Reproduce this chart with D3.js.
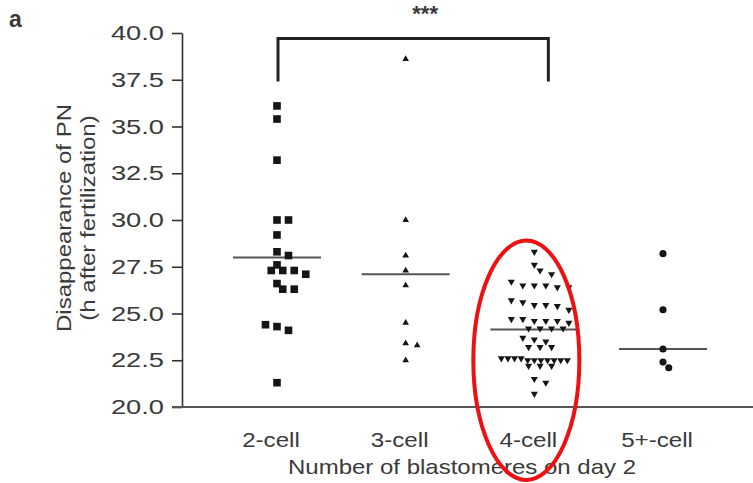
<!DOCTYPE html>
<html>
<head>
<meta charset="utf-8">
<script src="https://cdn.jsdelivr.net/npm/d3@7"></script>
<style>
  html, body { margin: 0; padding: 0; background: #fff; }
  svg { display: block; }
  text { font-family: Arial, "Liberation Sans", sans-serif; fill: #3a3a3a; }
</style>
</head>
<body>
<div id="chart"></div>
<script>
'use strict';

const width = 753;
const height = 483;

const categories = ['2-cell', '3-cell', '4-cell', '5+-cell'];

// hours after fertilization at disappearance of PN
const twoCell = [36.1, 35.4, 33.2, 30.0, 30.0, 29.2, 28.3, 28.1, 27.6, 27.3, 27.3, 27.3,
    27.1, 26.6, 26.3, 26.3, 24.4, 24.3, 24.1, 21.3];
const threeCell = [38.6, 30.0, 28.1, 27.3, 26.5, 24.5, 23.4, 23.3, 22.5];
const fourCell = [28.3, 27.6, 27.3, 27.1, 26.7, 26.5, 26.5, 26.5, 26.4, 26.4,
    25.7, 25.6, 25.45, 25.45, 25.4, 25.2,
    24.7, 24.7, 24.6, 24.6, 24.6, 24.5, 24.2, 24.2, 24.2, 24.2,
    23.7, 23.6, 23.5, 23.2, 23.2, 23.2,
    22.6, 22.5, 22.5, 22.6, 22.5, 22.5, 22.6, 22.5, 22.5, 22.6, 22.5,
    22.2, 22.2, 22.2, 21.5, 21.3, 20.7];
const fivePlusCell = [28.2, 25.2, 23.1, 22.4, 22.1];
const groups = [twoCell, threeCell, fourCell, fivePlusCell];

// horizontal line drawn through each group
const centerLines = [28.0, 27.1, 24.15, 23.1];

const yTicks = [20.0, 22.5, 25.0, 27.5, 30.0, 32.5, 35.0, 37.5, 40.0];
const yLabel = ['Disappearance of PN', '(h after fertilization)'];
const xLabel = 'Number of blastomeres on day 2';
const comparison = ['2-cell', '4-cell'];
const significance = '***';
const highlighted = '4-cell';
const panelLetter = 'a';

const plotLeft = 182;
const plotTop = 33;
const plotBottom = 407;

const svg = d3.select('#chart').append('svg')
    .attr('width', width)
    .attr('height', height);

const y = d3.scaleLinear().domain([20, 40]).range([plotBottom, plotTop]);
const x = d3.scalePoint().domain(categories).range([277, 663]);

const symbols = [
    d3.symbol().type(d3.symbolSquare).size(58),
    d3.symbol().type(d3.symbolTriangle).size(19),
    d3.symbol().type(d3.symbolTriangle).size(22),
    d3.symbol().type(d3.symbolCircle).size(40)
];

// the lettering of the source figure is wider than Arial, so stretch it along the line
function stretch(sel, sx) {
    sel.each(function() {
        var t = d3.select(this);
        var tx = +t.attr('x') || 0;
        var ty = +t.attr('y') || 0;
        t.attr('x', 0).attr('y', 0)
            .attr('transform', 'translate(' + tx + ',' + ty + ') scale(' + sx + ',1)');
    });
}

// simple column-scatter layout: rows of near-equal values spread side by side
function swarm(values, cx, step, maxHalf, gap) {
    var pts = values.map(function(v) { return {v: v, y: y(v)}; })
        .sort(function(a, b) { return a.y - b.y; });
    var rows = [];
    pts.forEach(function(p) {
        var row = rows[rows.length - 1];
        if (row && p.y - row[row.length - 1].y <= gap) row.push(p);
        else rows.push([p]);
    });
    var prev = null;
    rows.forEach(function(row) {
        var n = row.length;
        var s = n > 1 ? Math.min(step, 2 * maxHalf / (n - 1)) : step;
        var c = Math.floor((n - 1) / 2);
        var shift = prev && row[0].y - prev[prev.length - 1].y < 7 ? s / 2 : 0;
        row.forEach(function(p, i) { p.x = cx + (i - c) * s + shift; });
        prev = row;
    });
    return pts;
}

// axes
const yAxis = svg.append('g')
    .attr('transform', 'translate(' + plotLeft + ',0)')
    .call(d3.axisLeft(y).tickValues(yTicks).tickFormat(d3.format('.1f'))
        .tickSize(10).tickSizeOuter(0).tickPadding(8));
yAxis.select('.domain').attr('stroke', '#333').attr('stroke-width', 1.6);
yAxis.selectAll('.tick line').attr('stroke', '#333').attr('stroke-width', 1.6);
yAxis.selectAll('.tick text')
    .style('font-size', '21px')
    .attr('fill', '#3d3d3d')
    .call(stretch, 1.3);

svg.append('line')
    .attr('x1', plotLeft - 10).attr('x2', width)
    .attr('y1', plotBottom).attr('y2', plotBottom)
    .attr('stroke', '#555').attr('stroke-width', 1.8);

svg.append('g').selectAll('text')
    .data(categories)
    .join('text')
    .attr('x', function(d) { return x(d) - 6; })
    .attr('y', plotBottom + 40)
    .attr('text-anchor', 'middle')
    .style('font-size', '21px')
    .text(function(d) { return d; })
    .call(stretch, 1.15);

svg.append('text')
    .attr('x', 462)
    .attr('y', 474)
    .attr('text-anchor', 'middle')
    .style('font-size', '20px')
    .text(xLabel)
    .call(stretch, 1.2);

svg.append('g')
    .attr('transform', 'translate(0,' + ((plotTop + plotBottom) / 2 - 2) + ') rotate(-90)')
    .selectAll('text')
    .data(yLabel)
    .join('text')
    .attr('x', 0)
    .attr('y', function(d, i) { return 71 + i * 24; })
    .attr('text-anchor', 'middle')
    .style('font-size', '20px')
    .text(function(d) { return d; })
    .call(stretch, 1.2);

svg.append('text')
    .attr('x', 9)
    .attr('y', 27)
    .style('font-size', '23px')
    .style('font-weight', 'bold')
    .attr('fill', '#111')
    .text(panelLetter);

// group lines
svg.append('g').selectAll('line')
    .data(categories)
    .join('line')
    .attr('x1', function(d) { return x(d) - 44; })
    .attr('x2', function(d) { return x(d) + 44; })
    .attr('y1', function(d, i) { return y(centerLines[i]); })
    .attr('y2', function(d, i) { return y(centerLines[i]); })
    .attr('stroke', '#555')
    .attr('stroke-width', 2);

// points
groups.forEach(function(vals, gi) {
    var pts = swarm(vals, x(categories[gi]), 11.5, 33, 5);
    svg.append('g').selectAll('path')
        .data(pts)
        .join('path')
        .attr('d', symbols[gi])
        .attr('transform', function(p) {
            return 'translate(' + p.x + ',' + p.y + ')' + (gi === 2 ? ' rotate(180)' : '');
        })
        .attr('fill', '#151515');
});

// significance bracket
const bx1 = x(comparison[0]) + 1;
const bx2 = x(comparison[1]) + 14;
const bTop = y(39.7);
const bBottom = y(37.4);
svg.append('path')
    .attr('d', 'M' + bx1 + ',' + bBottom + 'V' + bTop + 'H' + bx2 + 'V' + bBottom)
    .attr('fill', 'none')
    .attr('stroke', '#222')
    .attr('stroke-width', 3);
svg.append('text')
    .attr('x', (bx1 + bx2) / 2 + 12)
    .attr('y', 21)
    .attr('text-anchor', 'middle')
    .style('font-size', '22px')
    .style('font-weight', 'bold')
    .attr('fill', '#222')
    .text(significance);

// red highlight round the 4-cell group
svg.append('ellipse')
    .attr('cx', x(highlighted) - 8)
    .attr('cy', (y(28.9) + 480) / 2)
    .attr('rx', 53)
    .attr('ry', (480 - y(28.9)) / 2)
    .attr('fill', 'none')
    .attr('stroke', '#ee1111')
    .attr('stroke-width', 4);
</script>
</body>
</html>
